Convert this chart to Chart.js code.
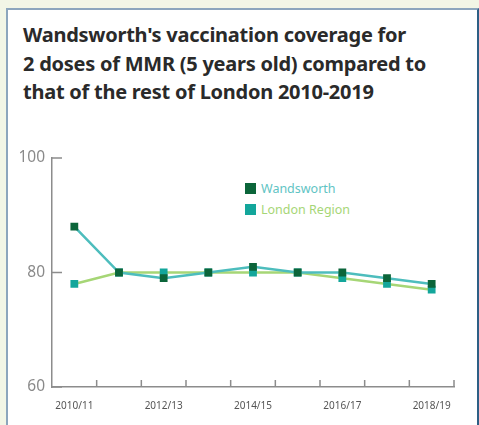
<!DOCTYPE html>
<html>
<head>
<meta charset="utf-8">
<script src="https://cdn.jsdelivr.net/npm/chart.js@4"></script>
<style>
    body { margin: 0; width: 479px; height: 425px; overflow: hidden; background: #f2f6e6; font-family: "Noto Sans", sans-serif; }
    .panel { position: absolute; left: 6px; top: 8px; width: 469px; height: 430px; background: #fff;
             border-top: 2px solid #8ca6bd; border-left: 2px solid #8ca6bd; border-right: 2px solid #2d5f85; }
    .title { position: absolute; left: 23px; top: 21px; font-size: 20px; letter-spacing: -0.25px; line-height: 28.5px; font-weight: bold; color: #2a2a2a; }
    .legend { position: absolute; left: 245px; top: 178px; font-size: 12.5px; }
    .legend div { height: 21px; display: flex; align-items: center; }
    .legend span.box { width: 11px; height: 11px; margin-right: 5px; display: inline-block; }
    canvas { position: absolute; left: 0; top: 0; }
</style>
</head>
<body>
<div class="panel"></div>
<div class="title">Wandsworth's vaccination coverage for<br>2 doses of MMR (5 years old) compared to<br>that of the rest of London 2010-2019</div>
<div class="legend">
    <div><span class="box" style="background:#0b653a"></span><span style="color:#5fc4c4">Wandsworth</span></div>
    <div><span class="box" style="background:#13a69b"></span><span style="color:#a6d676">London Region</span></div>
</div>
<canvas id="mmrChart" width="479" height="425"></canvas>
<script>
// Data
const years = ['2010/11', '2011/12', '2012/13', '2013/14', '2014/15', '2015/16', '2016/17', '2017/18', '2018/19'];
const wandsworth = [88, 80, 79, 80, 81, 80, 80, 79, 78];
const londonRegion = [78, 80, 80, 80, 80, 80, 79, 78, 77];
const yTicks = [60, 80, 100];

const axisColor = '#8c8c8c';

// small tick marks drawn inside the plot, like the original
const innerTicks = {
    id: 'innerTicks',
    afterDraw(chart) {
        const ctx = chart.ctx;
        const x = chart.scales.x;
        const y = chart.scales.y;
        const area = chart.chartArea;
        ctx.save();
        ctx.strokeStyle = axisColor;
        ctx.lineWidth = 1.5;
        ctx.beginPath();
        yTicks.forEach(v => {
            const py = y.getPixelForValue(v);
            ctx.moveTo(area.left, py);
            ctx.lineTo(area.left + 10, py);
        });
        for (let i = 0; i < years.length; i++) {
            const px = i < years.length - 1
                ? (x.getPixelForValue(i) + x.getPixelForValue(i + 1)) / 2
                : area.right;
            ctx.moveTo(px, area.bottom);
            ctx.lineTo(px, area.bottom - 7);
        }
        ctx.stroke();
        ctx.restore();
    }
};

const mmrChart = new Chart(
    document.getElementById('mmrChart'),
    {
        type: 'line',
        data: {
            labels: years,
            datasets: [{
                label: 'Wandsworth',
                data: wandsworth,
                borderColor: '#4dbdbd',
                borderWidth: 2.5,
                pointStyle: 'rect',
                pointRadius: 5.5,
                pointBorderWidth: 0,
                pointBackgroundColor: '#0b653a',
                tension: 0
            }, {
                label: 'London Region',
                data: londonRegion,
                borderColor: '#a6d676',
                borderWidth: 2.5,
                pointStyle: 'rect',
                pointRadius: 5.5,
                pointBorderWidth: 0,
                pointBackgroundColor: '#13a69b',
                tension: 0
            }]
        },
        options: {
            responsive: false,
            animation: false,
            layout: { padding: { top: 158, right: 25, left: 0, bottom: 0 } },
            plugins: {
                legend: { display: false },
                tooltip: { enabled: false }
            },
            scales: {
                x: {
                    offset: true,
                    grid: { display: true, drawOnChartArea: false, drawTicks: false, offset: true },
                    border: { color: axisColor, width: 1.5 },
                    afterFit: s => { s.height = 38; },
                    ticks: {
                        autoSkip: false,
                        maxRotation: 0,
                        padding: 13,
                        color: '#555',
                        font: { family: 'Noto Sans', size: 10 },
                        callback: function (val, i) { return i % 2 === 0 ? this.getLabelForValue(val) : ''; }
                    }
                },
                y: {
                    min: 60,
                    max: 100,
                    afterFit: s => { s.width = 52; },
                    grid: { drawOnChartArea: false, drawTicks: false },
                    border: { color: axisColor, width: 1.5 },
                    ticks: {
                        stepSize: 20,
                        padding: 7,
                        color: '#8a8a8a',
                        font: { family: 'Noto Sans', size: 15.5 }
                    }
                }
            }
        },
        plugins: [innerTicks]
    }
);
</script>
</body>
</html>
